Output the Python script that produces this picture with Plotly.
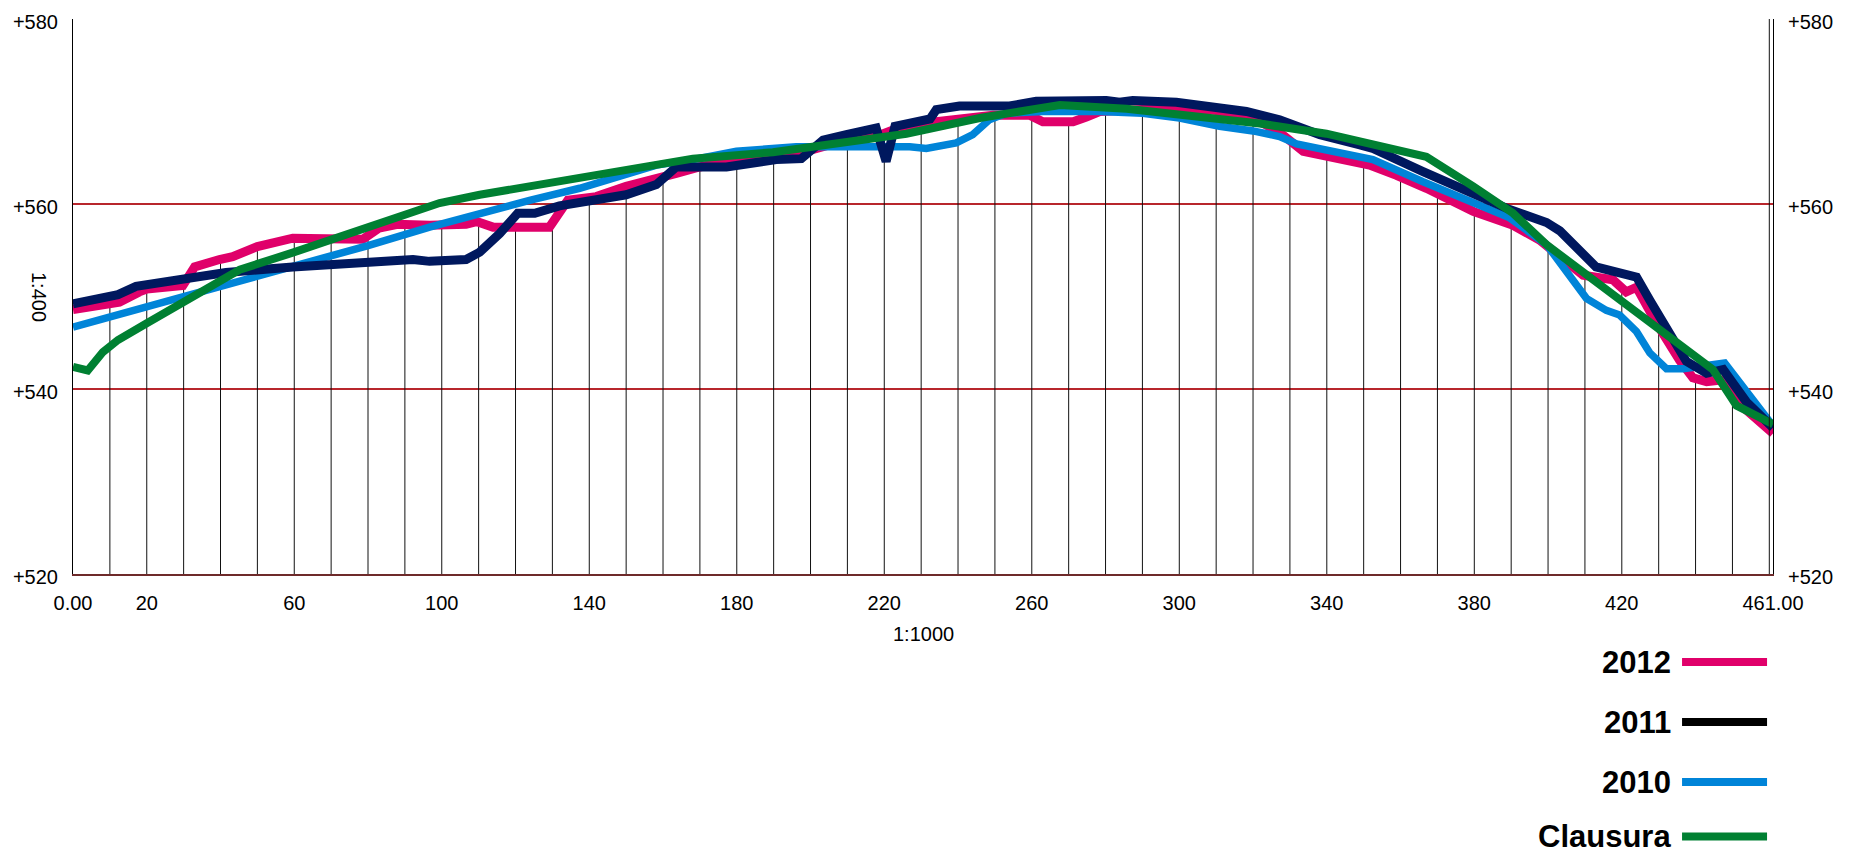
import numpy as np
import plotly.graph_objects as go

# Ground profile survey, station (m) vs elevation (m)
x_2012 = [0, 10, 12.6, 18, 20, 29.8, 33, 39.7, 43.3, 50, 55, 59.6, 68.7, 78.6, 83, 88,
          96.7, 106.6, 109.4, 113.9, 123.8, 129.2, 134.2, 141.9, 150, 158.2, 163.6, 169.9,
          177.2, 189.8, 199.8, 209.7, 217.8, 222.3, 234.1, 249.5, 259.4, 263, 271.2, 274.8,
          278.4, 300, 310, 320, 327, 333.6, 340, 349, 351.6, 358.9, 367, 379.7, 390.5,
          397.7, 403, 409.5, 417.6, 421.2, 424, 429.4, 435.7, 439.3, 443, 447.5, 453.8, 461]
y_2012 = [548.6, 549.1, 549.4, 550.5, 550.8, 551.2, 553.2, 554.0, 554.3, 555.4, 556.0, 556.3,
          556.25, 556.2, 557.4, 557.8, 557.7, 557.8, 558.1, 557.5, 557.5, 557.5, 560.4, 560.8,
          561.9, 562.6, 563.3, 564.0, 564.6, 565.1, 565.8, 566.9, 567.3, 568.0, 568.9, 569.6,
          569.6, 568.9, 568.9, 569.4, 570.0, 570.4, 570.1, 569.3, 567.8, 565.7, 565.1, 564.5,
          564.2, 563.1, 561.7, 559.2, 557.7, 556.1, 554.3, 552.3, 551.8, 550.5, 551.0, 547.1,
          543.1, 541.2, 540.8, 541.0, 537.7, 535.2]

x_2011 = [0, 12.2, 17.1, 23.5, 29.8, 41.5, 59.6, 88.6, 92.2, 96.7, 106.6, 110.3, 115.7,
          120.6, 125.2, 131.9, 137.4, 150, 158.2, 163.6, 177.2, 190.7, 197.5, 203.4, 209.7,
          217.8, 220.5, 222.9, 232.4, 234.1, 240.4, 254, 261.2, 268.5, 280.2, 283.8, 287.4,
          299.2, 312.8, 318.2, 327.2, 338.1, 349, 352.5, 366.1, 372.4, 379.7, 389.6, 399.6,
          403.2, 413, 424, 427.6, 431.2, 437.5, 443, 447.5, 453.8, 461]
y_2011 = [549.2, 550.2, 551.1, 551.5, 552.0, 552.6, 553.2, 553.8, 554.0, 553.8, 554.0, 554.8,
          556.8, 559.0, 559.0, 559.8, 560.1, 561.0, 562.1, 564.0, 564.0, 564.8, 564.9, 566.9,
          567.5, 568.2, 564.6, 568.4, 569.2, 570.2, 570.6, 570.6, 571.1, 571.2, 571.2, 571.0,
          571.2, 571.0, 570.3, 570.0, 569.1, 567.5, 566.4, 566.0, 563.5, 562.4, 561.0, 559.4,
          558.0, 557.1, 553.2, 552.1, 549.6, 547.1, 543.0, 541.7, 542.1, 538.6, 535.8]

x_2010 = [0, 10, 20, 30, 40, 50, 60, 70, 80, 96.7, 110.3, 123.8, 137.4, 150.9, 158.2, 168.1,
          179.9, 196.1, 217.8, 226.9, 231.4, 239.5, 244, 248.5, 253.1, 263, 278.4, 290.1,
          300.1, 310.9, 320, 327.2, 331.8, 339.9, 349, 352.5, 366.1, 379.7, 389.6, 399.6,
          403.2, 410.4, 415.8, 419.4, 424, 427.6, 432.1, 436.6, 447.9, 461]
y_2010 = [546.7, 547.8, 548.9, 550.0, 551.1, 552.1, 553.2, 554.3, 555.5, 557.5, 559.0, 560.4,
          561.7, 563.4, 564.2, 564.8, 565.7, 566.2, 566.3, 566.2, 566.0, 566.6, 567.5, 569.1,
          569.8, 570.0, 570.0, 569.8, 569.3, 568.4, 567.9, 567.3, 566.5, 565.8, 565.1, 564.8,
          562.4, 560.1, 558.5, 555.6, 553.6, 549.8, 548.5, 548.0, 546.2, 543.9, 542.2, 542.2,
          542.8, 536.0]

x_clausura = [0, 4, 8.1, 12.2, 20, 30, 40, 45.2, 60, 70, 80, 88.6, 99.4, 110.3, 137.4, 153.6,
              168.1, 189.8, 207.9, 226, 245.9, 267.6, 285.7, 303.7, 321.8, 339.9, 349, 367,
              379.7, 390.5, 399.6, 435.7, 444.7, 451.1, 461]
y_clausura = [542.4, 542.0, 544.0, 545.3, 547.1, 549.4, 551.8, 552.9, 554.8, 556.1, 557.4,
              558.6, 560.1, 561.0, 562.8, 564.0, 564.9, 565.6, 566.6, 567.6, 569.3, 570.7,
              570.3, 569.6, 568.7, 567.6, 566.7, 565.1, 561.9, 559.0, 555.6, 544.9, 542.1,
              538.2, 536.2]

series_names = ["2012", "2011", "2010", "Clausura"]
series_colors = ["#E0006A", "#00185E", "#0084D8", "#008032"]
legend_colors = ["#E0006A", "#000000", "#0084D8", "#008032"]
series_widths = [9, 9, 7.5, 8]

y_ticks = [520, 540, 560, 580]
y_tick_text = ["+520", "+540", "+560", "+580"]
x_ticks = [0, 20, 60, 100, 140, 180, 220, 260, 300, 340, 380, 420, 461]
x_tick_text = ["0.00", "20", "60", "100", "140", "180", "220", "260", "300", "340",
               "380", "420", "461.00"]
stations = list(range(10, 460, 10))

FONT = "Liberation Sans, Arial, sans-serif"
Y_MIN, Y_MAX = 520, 580
X_MAX = 461

fig = go.Figure()

# station lines from the datum up to the 2012 ground level
tops = np.interp(stations, x_2012, y_2012)
vx, vy = [], []
for s, t in zip(stations, tops):
    vx += [s, s, None]
    vy += [Y_MIN, t, None]
fig.add_trace(go.Scatter(x=vx, y=vy, mode="lines", line=dict(color="#111111", width=1),
                         hoverinfo="skip", showlegend=False))
fig.add_trace(go.Scatter(x=[460, 460], y=[Y_MIN, Y_MAX], mode="lines", yaxis="y2",
                         line=dict(color="#111111", width=1), hoverinfo="skip",
                         showlegend=False))

data = {
    "2012": (x_2012, y_2012),
    "2011": (x_2011, y_2011),
    "2010": (x_2010, y_2010),
    "Clausura": (x_clausura, y_clausura),
}
draw_order = ["2012", "2010", "2011", "Clausura"]
for name in draw_order:
    i = series_names.index(name)
    xs, ys = data[name]
    fig.add_trace(go.Scatter(x=xs, y=ys, mode="lines", name=name,
                             line=dict(color=series_colors[i], width=series_widths[i]),
                             showlegend=False))

axis_font = dict(family=FONT, size=20, color="#000000")
fig.update_layout(
    width=1858, height=850,
    margin=dict(l=73, r=85, t=19, b=276),
    paper_bgcolor="white", plot_bgcolor="white",
    showlegend=False,
    xaxis=dict(range=[0, X_MAX], tickvals=x_ticks, ticktext=x_tick_text, showgrid=False,
               zeroline=False, showline=True, linecolor="#6E2A2A", linewidth=2, ticks="",
               tickfont=axis_font, ticklabelstandoff=10),
    yaxis=dict(range=[Y_MIN, Y_MAX], tickvals=y_ticks, ticktext=y_tick_text, showgrid=True,
               gridcolor="#B8262C", gridwidth=1.5, zeroline=False, showline=True,
               linecolor="#000000", linewidth=1, ticks="", tickfont=axis_font,
               ticklabelstandoff=10, ticklabelshift=3),
    yaxis2=dict(range=[Y_MIN, Y_MAX], tickvals=y_ticks, ticktext=y_tick_text,
                overlaying="y", side="right", showgrid=False, zeroline=False, showline=True,
                linecolor="#000000", linewidth=1, ticks="", tickfont=axis_font,
                ticklabelstandoff=10, ticklabelshift=3),
)

annotations = [
    dict(text="1:1000", x=0.5, y=-0.108, xref="paper", yref="paper", showarrow=False,
         xanchor="center", yanchor="middle", font=dict(family=FONT, size=20, color="#000")),
    dict(text="1:400", x=-0.0197, y=0.5, xref="paper", yref="paper", showarrow=False,
         textangle=90, xanchor="center", yanchor="middle",
         font=dict(family=FONT, size=20, color="#000")),
]
shapes = []
legend_y = [-0.1586, -0.2667, -0.3748, -0.4730]
for name, col, ly in zip(series_names, legend_colors, legend_y):
    annotations.append(dict(text="<b>" + name + "</b>", x=0.9406, y=ly, xref="paper",
                            yref="paper", showarrow=False, xanchor="right",
                            yanchor="middle", borderpad=0,
                            font=dict(family=FONT, size=31, color="#000")))
    shapes.append(dict(type="line", xref="paper", yref="paper", x0=0.9465, x1=0.9965,
                       y0=ly, y1=ly, line=dict(color=col, width=8)))
fig.update_layout(annotations=annotations, shapes=shapes)

fig.write_html("out.html")
